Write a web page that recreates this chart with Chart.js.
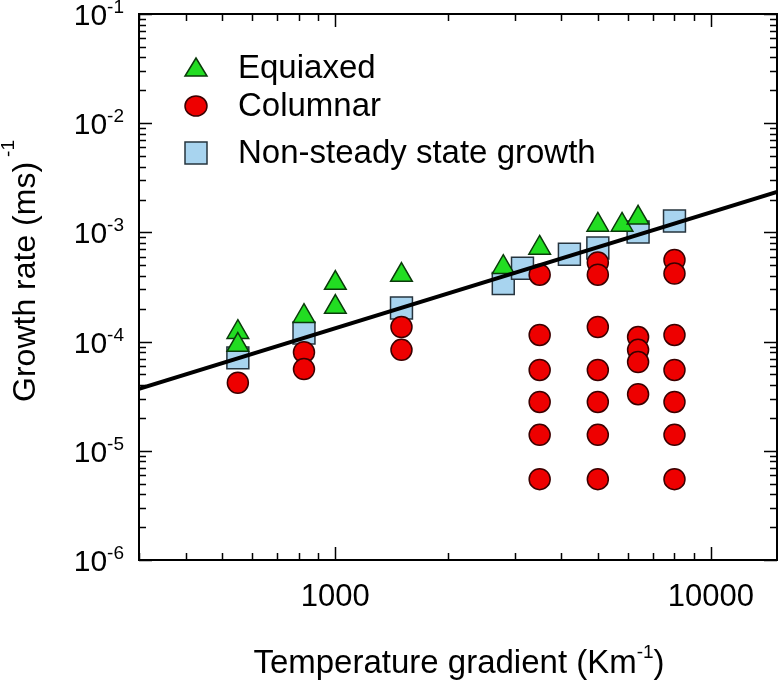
<!DOCTYPE html>
<html>
<head>
<meta charset="utf-8">
<script src="https://cdn.jsdelivr.net/npm/chart.js@4/dist/chart.umd.min.js"></script>
<style>
    html, body { margin: 0; padding: 0; background: #fff; overflow: hidden; }
    #wrap { position: relative; width: 778px; height: 681px; }
    canvas { display: block; }
</style>
</head>
<body>
<div id="wrap"><canvas id="growth-chart"></canvas></div>
<script>
// values (G in K/m, V in m/s)
const equiaxedG = [550, 550, 825, 1000, 1000, 1500, 2800, 3500, 5000, 5800, 6400];
const equiaxedV = [1.22e-4, 9.3e-5, 1.71e-4, 3.44e-4, 2.07e-4, 4.07e-4, 4.8e-4, 7.2e-4, 1.17e-3, 1.17e-3, 1.36e-3];

const columnarG = [550, 825, 825, 1500, 1500,
    3500, 3500, 3500, 3500, 3500, 3500,
    5000, 5000, 5000, 5000, 5000, 5000, 5000,
    6400, 6400, 6400, 6400,
    8000, 8000, 8000, 8000, 8000, 8000, 8000];
const columnarV = [4.2e-5, 8.0e-5, 5.6e-5, 1.36e-4, 8.4e-5,
    4.1e-4, 1.15e-4, 5.5e-5, 2.8e-5, 1.4e-5, 5.5e-6,
    5.3e-4, 4.1e-4, 1.36e-4, 5.5e-5, 2.8e-5, 1.4e-5, 5.5e-6,
    1.1e-4, 8.4e-5, 6.5e-5, 3.3e-5,
    5.6e-4, 4.2e-4, 1.15e-4, 5.5e-5, 2.8e-5, 1.4e-5, 5.5e-6];

const nonSteadyG = [550, 825, 1500, 2800, 3150, 4200, 5000, 6400, 8000];
const nonSteadyV = [7.1e-5, 1.2e-4, 2.03e-4, 3.4e-4, 4.7e-4, 6.3e-4, 7.2e-4, 1.01e-3, 1.27e-3];

const fitG = [300, 15000];
const fitV = [3.7e-5, 2.35e-3];

const xTickLabels = [1000, 10000];
const yTickExponents = [-1, -2, -3, -4, -5, -6];
const legendLabels = ['Equiaxed', 'Columnar', 'Non-steady state growth'];

const GREEN = '#22dd22';
const RED = '#ee0000';
const BLUE = '#a8d4ef';
const FONT = 'Liberation Sans, Arial, sans-serif';

function toPoints(xs, ys) {
    return xs.map((x, i) => ({x: x, y: ys[i]}));
}

function drawMarker(ctx, style, x, y) {
    ctx.save();
    ctx.lineWidth = 1.5;
    ctx.beginPath();
    if (style === 'triangle') {
        ctx.fillStyle = GREEN;
        ctx.strokeStyle = '#0a3a0a';
        ctx.moveTo(x, y - 10);
        ctx.lineTo(x + 11, y + 8);
        ctx.lineTo(x - 11, y + 8);
        ctx.closePath();
    } else if (style === 'circle') {
        ctx.fillStyle = RED;
        ctx.strokeStyle = '#3a0000';
        ctx.ellipse(x, y, 11, 10, 0, 0, Math.PI * 2);
    } else {
        ctx.fillStyle = BLUE;
        ctx.strokeStyle = '#26343e';
        ctx.rect(x - 11, y - 11, 22, 22);
    }
    ctx.fill();
    ctx.stroke();
    ctx.restore();
}

function drawSuper(ctx, base, sup, x, y, size, supSize, align) {
    ctx.font = size + 'px ' + FONT;
    const wBase = ctx.measureText(base).width;
    ctx.font = supSize + 'px ' + FONT;
    const wSup = ctx.measureText(sup).width;
    let left = x;
    if (align === 'right') left = x - wBase - wSup;
    if (align === 'center') left = x - (wBase + wSup) / 2;
    ctx.textAlign = 'left';
    ctx.textBaseline = 'alphabetic';
    ctx.font = size + 'px ' + FONT;
    ctx.fillText(base, left, y);
    ctx.font = supSize + 'px ' + FONT;
    ctx.fillText(sup, left + wBase, y - size * 0.4);
}

const axesPlugin = {
    id: 'axesPlugin',
    afterDraw(chart) {
        const ctx = chart.ctx;
        const area = chart.chartArea;
        const xs = chart.scales.x;
        const ys = chart.scales.y;
        ctx.save();
        ctx.strokeStyle = '#000';
        ctx.fillStyle = '#000';

        // inward ticks on all four sides
        ctx.lineWidth = 1.5;
        ctx.beginPath();
        for (let d = 2; d <= 4; d++) {
            for (let m = 1; m <= 9; m++) {
                const v = m * Math.pow(10, d);
                if (v < xs.min || v > xs.max) continue;
                const px = Math.round(xs.getPixelForValue(v)) + 0.5;
                const len = m === 1 ? 13 : 7;
                ctx.moveTo(px, area.bottom);
                ctx.lineTo(px, area.bottom - len);
                ctx.moveTo(px, area.top);
                ctx.lineTo(px, area.top + len);
            }
        }
        for (let d = -6; d <= -1; d++) {
            for (let m = 1; m <= 9; m++) {
                const v = m * Math.pow(10, d);
                if (v < ys.min * 0.999 || v > ys.max * 1.001) continue;
                const py = Math.round(ys.getPixelForValue(v)) + 0.5;
                const len = m === 1 ? 13 : 7;
                ctx.moveTo(area.left, py);
                ctx.lineTo(area.left + len, py);
                ctx.moveTo(area.right, py);
                ctx.lineTo(area.right - len, py);
            }
        }
        ctx.stroke();

        // frame
        ctx.lineWidth = 2;
        ctx.strokeRect(area.left, area.top, area.right - area.left, area.bottom - area.top);

        // y tick labels 10^n
        yTickExponents.forEach(e => {
            const py = ys.getPixelForValue(Math.pow(10, e));
            drawSuper(ctx, '10', String(e), 124, py + 11, 30, 19, 'right');
        });

        // x tick labels
        ctx.font = '31px ' + FONT;
        ctx.textAlign = 'center';
        ctx.textBaseline = 'alphabetic';
        xTickLabels.forEach(v => {
            ctx.fillText(String(v), xs.getPixelForValue(v), area.bottom + 46);
        });

        // x axis title
        ctx.font = '33px ' + FONT;
        const tPart = 'Temperature gradient (Km';
        const wPart = ctx.measureText(tPart).width;
        ctx.font = '19px ' + FONT;
        const wSup = ctx.measureText('-1').width;
        ctx.font = '33px ' + FONT;
        const wEnd = ctx.measureText(')').width;
        const tLeft = 459 - (wPart + wSup + wEnd) / 2;
        ctx.textAlign = 'left';
        ctx.fillText(tPart, tLeft, 673);
        ctx.font = '19px ' + FONT;
        ctx.fillText('-1', tLeft + wPart, 658);
        ctx.font = '33px ' + FONT;
        ctx.fillText(')', tLeft + wPart + wSup, 673);

        // y axis title
        ctx.save();
        ctx.translate(35, 271);
        ctx.rotate(-Math.PI / 2);
        ctx.font = '32px ' + FONT;
        const yPart = 'Growth rate (ms)';
        const wY = ctx.measureText(yPart).width + 5;
        ctx.font = '19px ' + FONT;
        const wYs = ctx.measureText('-1').width;
        const yLeft = -(wY + wYs) / 2;
        ctx.font = '32px ' + FONT;
        ctx.fillText(yPart, yLeft, 0);
        ctx.font = '19px ' + FONT;
        ctx.fillText('-1', yLeft + wY, -21);
        ctx.restore();

        // legend
        const rows = [68, 106, 153];
        const styles = ['triangle', 'circle', 'rect'];
        ctx.font = '33px ' + FONT;
        ctx.textAlign = 'left';
        ctx.textBaseline = 'middle';
        legendLabels.forEach((label, i) => {
            drawMarker(ctx, styles[i], 196, rows[i]);
            ctx.fillStyle = '#000';
            ctx.fillText(label, 238, rows[i] + 1);
        });
        ctx.restore();
    }
};

const config = {
    type: 'scatter',
    data: {
        datasets: [
            {
                type: 'line',
                label: 'fit',
                data: toPoints(fitG, fitV),
                borderColor: '#000',
                borderWidth: 4,
                pointRadius: 0,
                fill: false
            },
            {
                label: legendLabels[1],
                data: toPoints(columnarG, columnarV),
                pointStyle: 'circle',
                pointRadius: 10.5,
                backgroundColor: RED,
                borderColor: '#3a0000',
                borderWidth: 1.5
            },
            {
                label: legendLabels[0],
                data: toPoints(equiaxedG, equiaxedV),
                pointStyle: 'triangle',
                pointRadius: 12.5,
                backgroundColor: GREEN,
                borderColor: '#0a3a0a',
                borderWidth: 1.5
            },
            {
                label: legendLabels[2],
                data: toPoints(nonSteadyG, nonSteadyV),
                pointStyle: 'rect',
                pointRadius: 15.5,
                backgroundColor: BLUE,
                borderColor: '#26343e',
                borderWidth: 1.5
            }
        ]
    },
    options: {
        responsive: true,
        maintainAspectRatio: false,
        animation: false,
        layout: {
            autoPadding: false,
            padding: {left: 139, top: 14, right: 1, bottom: 121}
        },
        plugins: {
            legend: {display: false},
            tooltip: {enabled: false}
        },
        scales: {
            x: {
                type: 'logarithmic',
                min: 300,
                max: 15000,
                display: false
            },
            y: {
                type: 'logarithmic',
                min: 1e-6,
                max: 1e-1,
                display: false
            }
        }
    },
    plugins: [axesPlugin]
};

new Chart(document.getElementById('growth-chart'), config);
</script>
</body>
</html>
